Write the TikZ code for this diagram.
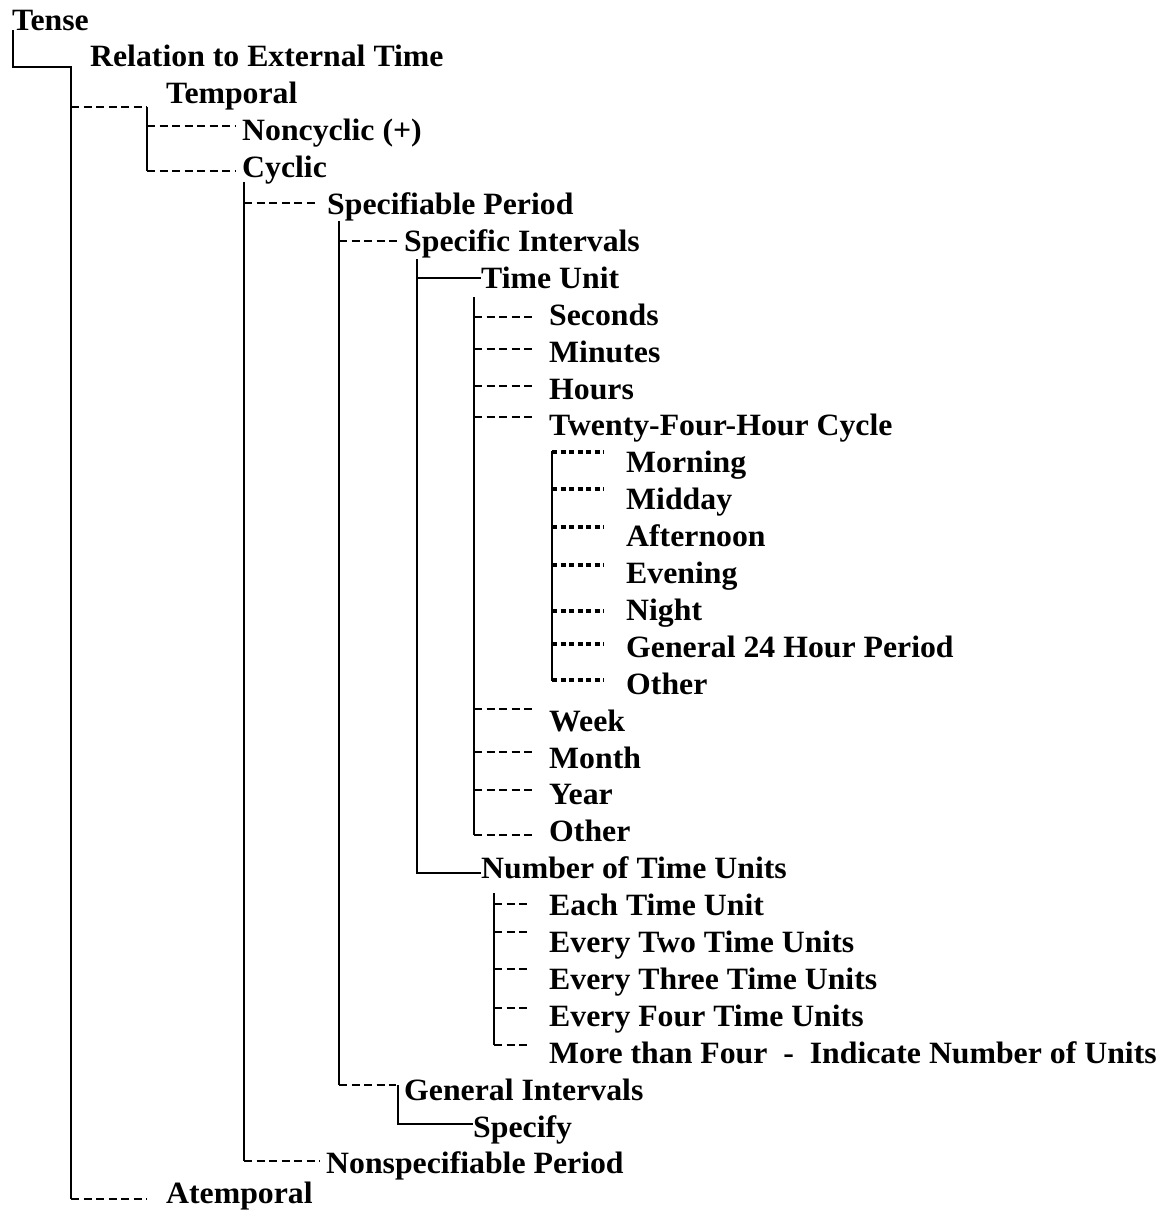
\documentclass[tikz,border=0pt]{standalone}
\usepackage{fontspec}
\setmainfont{Liberation Serif}[FakeStretch=1.025]
\begin{document}
\begin{tikzpicture}[x=1pt,y=-1pt,
  lbl/.style={anchor=base west, inner sep=0pt, font=\fontsize{31}{31}\selectfont\bfseries},
  sld/.style={line width=1.6pt},
  dsh/.style={line width=1.1pt, dash pattern=on 8pt off 4.5pt},
  dts/.style={line width=4pt, dash pattern=on 5pt off 3.5pt}]
\useasboundingbox (0,0) rectangle (1164,1211);
% labels
\node[lbl] (tense) at (12,30) {Tense};
\node[lbl] (rel) at (90,66.9) {Relation to External Time};
\node[lbl] (temp) at (166,103.8) {Temporal};
\node[lbl] (noncyc) at (242,140.7) {Noncyclic (+)};
\node[lbl] (cyc) at (242,177.6) {Cyclic};
\node[lbl] (spec) at (327,214.5) {Specifiable Period};
\node[lbl] (sint) at (404,251.4) {Specific Intervals};
\node[lbl] (tu) at (481,288.3) {Time Unit};
\node[lbl] (sec) at (549,325.2) {Seconds};
\node[lbl] (min) at (549,362.1) {Minutes};
\node[lbl] (hrs) at (549,399) {Hours};
\node[lbl] (tfh) at (549,435.9) {Twenty-Four-Hour Cycle};
\node[lbl] (morn) at (626,472.8) {Morning};
\node[lbl] (midd) at (626,509.7) {Midday};
\node[lbl] (aft) at (626,546.6) {Afternoon};
\node[lbl] (eve) at (626,583.5) {Evening};
\node[lbl] (night) at (626,620.4) {Night};
\node[lbl] (gen24) at (626,657.3) {General 24 Hour Period};
\node[lbl] (oth1) at (626,694.2) {Other};
\node[lbl] (week) at (549,731.1) {Week};
\node[lbl] (month) at (549,768) {Month};
\node[lbl] (year) at (549,804.9) {Year};
\node[lbl] (oth2) at (549,841.8) {Other};
\node[lbl] (ntu) at (481,878.7) {Number of Time Units};
\node[lbl] (each) at (549,915.6) {Each Time Unit};
\node[lbl] (two) at (549,952.5) {Every Two Time Units};
\node[lbl] (three) at (549,989.4) {Every Three Time Units};
\node[lbl] (four) at (549,1026.3) {Every Four Time Units};
\node[lbl] (more) at (549,1063.2) {More than Four\ \ -\ \ Indicate Number of Units};
\node[lbl] (gint) at (404,1100.1) {General Intervals};
\node[lbl] (specify) at (473,1137) {Specify};
\node[lbl] (nonspec) at (326,1173.9) {Nonspecifiable Period};
\node[lbl] (atemp) at (166,1203.5) {Atemporal};
% bus coordinates
\coordinate (b0) at (13,30);
\coordinate (b1) at (71,67);
\coordinate (b1e) at (71,1199);
\coordinate (b2) at (147,107);
\coordinate (b2e) at (147,171);
\coordinate (b3) at (244,182);
\coordinate (b3e) at (244,1161);
\coordinate (b4) at (339,221);
\coordinate (b4e) at (339,1085);
\coordinate (b5) at (417,259);
\coordinate (b5e) at (417,873);
\coordinate (b6) at (474,297);
\coordinate (b6e) at (474,835);
\coordinate (b7) at (494,893);
\coordinate (b7e) at (494,1045);
\coordinate (b8) at (398,1085);
\coordinate (b8e) at (398,1124);
\coordinate (b9) at (552,451);
\coordinate (b9e) at (552,681);
% solid lines
\draw[sld] (b0) -- (b0 |- b1) -- (b1) -- (b1e);
\draw[sld] (b2) -- (b2e);
\draw[sld] (b3) -- (b3e);
\draw[sld] (b4) -- (b4e);
\draw[sld] (b5) -- (b5e) -- (ntu.west |- b5e);
\draw[sld] (b5 |- 0,278) -- (tu.west |- 0,278);
\draw[sld] (b6) -- (b6e);
\draw[sld] (b7) -- (b7e);
\draw[sld] (b8) -- (b8e) -- (specify.west |- b8e);
\draw[line width=2pt] (b9) -- (b9e);
% dashed connectors
\draw[dsh] (b1 |- b2) -- (b2);
\draw[dsh] (147,126) -- (236,126);
\draw[dsh] (b2e) -- (236,171);
\draw[dsh] (244,203) -- (318,203);
\draw[dsh] (339,241) -- (398,241);
\foreach \yy in {317,349,386,417,709,752,790,835}
  \draw[dsh] (474,\yy) -- (533,\yy);
\foreach \yy in {904,932,969,1008,1045}
  \draw[dsh] (494,\yy) -- (528,\yy);
\draw[dsh] (b4e) -- (396,1085);
\draw[dsh] (b3e) -- (320,1161);
\draw[dsh] (b1e) -- (147,1199);
% dotted connectors
\foreach \yy in {452,489,527,565,611,644,680}
  \draw[dts] (552,\yy) -- (604,\yy);
\end{tikzpicture}
\end{document}
